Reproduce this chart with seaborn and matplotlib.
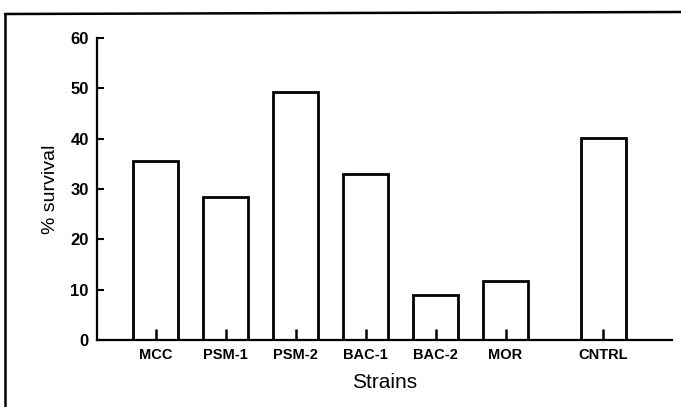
import matplotlib
matplotlib.use("Agg")
import matplotlib.pyplot as plt
import seaborn as sns
import pandas as pd
from matplotlib.lines import Line2D

strains = ["MCC", "PSM-1", "PSM-2", "BAC-1", "BAC-2", "MOR", "CNTRL"]
survival = [35.5, 28.5, 49.3, 33.0, 9.0, 11.8, 40.2]
yticks = [0, 10, 20, 30, 40, 50, 60]

# layout: CNTRL sits a bit further from the others
xpos = [0, 1, 2, 3, 4, 5, 6.4]

sns.set_theme(style="white")
plt.rcParams['font.family'] = ['Liberation Sans', 'DejaVu Sans']
plt.rcParams.update({"text.color": "black", "axes.labelcolor": "black",
                     "xtick.color": "black", "ytick.color": "black"})

df = pd.DataFrame({"x": xpos, "survival": survival, "strain": strains})

fig = plt.figure(figsize=(6.81, 4.07), dpi=100)
ax = fig.add_axes([0.1424, 0.1646, 0.8444, 0.742])

sns.barplot(data=df, x="x", y="survival", native_scale=True, width=0.65,
            color="white", edgecolor="black", linewidth=2.0, ax=ax)
ax.set_axisbelow(False)

ax.set_xlim(-0.84, 6.4 + 0.98)
ax.set_ylim(0, 60)
ax.set_yticks(yticks)
ax.set_yticklabels([str(v) for v in yticks], fontsize=12, fontweight="bold")
ax.set_xticks(xpos)
ax.set_xticklabels(strains, fontsize=10.5, fontweight="bold")
ax.tick_params(axis="y", direction="in", length=5, width=1.5, pad=6, left=True,
               colors="black")
ax.tick_params(axis="x", direction="in", length=8, width=1.8, pad=6, bottom=True,
               colors="black")
for lab in ax.get_xticklabels() + ax.get_yticklabels():
    lab.set_zorder(5)

for s in ["top", "right"]:
    ax.spines[s].set_visible(False)
for s in ["left", "bottom"]:
    ax.spines[s].set_visible(True)
    ax.spines[s].set_color("black")
    ax.spines[s].set_linewidth(1.6)
    ax.spines[s].set_zorder(4)

ax.set_xlabel("Strains", fontsize=15, labelpad=8, color="black")
ax.set_ylabel("% survival", fontsize=14, labelpad=8, color="black")

# outer frame lines of the scanned page
fig.add_artist(Line2D([5/681, 5/681], [0, 1 - 14/407], transform=fig.transFigure,
                      color="black", linewidth=1.8))
fig.add_artist(Line2D([5/681, 1], [1 - 14/407, 1 - 12/407], transform=fig.transFigure,
                      color="black", linewidth=1.8))

fig.savefig("out.png", dpi=100, facecolor="white")
